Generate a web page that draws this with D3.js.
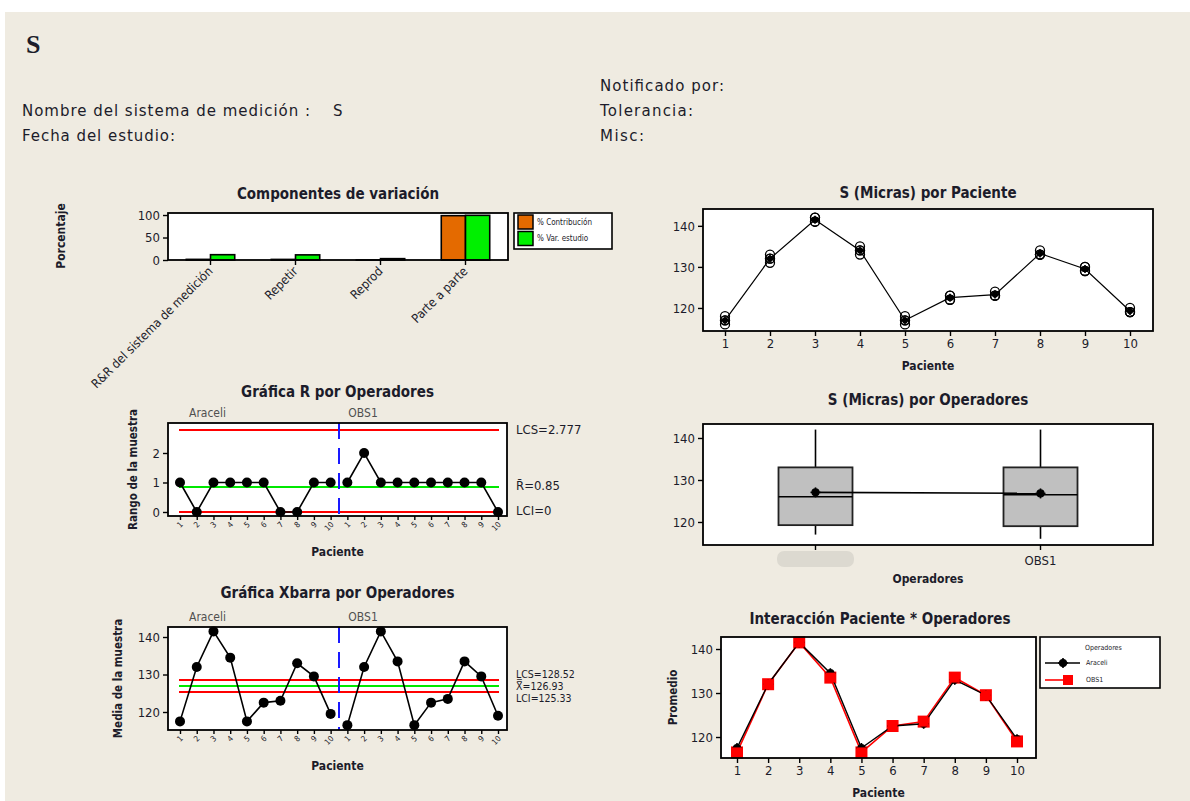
<!DOCTYPE html>
<html><head><meta charset="utf-8">
<script src="https://cdn.jsdelivr.net/npm/d3@7"></script>
<style>
body{margin:0;background:#fff;}
svg text{font-family:"DejaVu Sans Condensed","DejaVu Sans",sans-serif;fill:#1c1c2a;}
</style></head><body>
<svg id="c" width="1190" height="801"></svg>
<script>
// ---------------- data ----------------
const componentes = ["R&R del sistema de medición", "Repetir", "Reprod", "Parte a parte"];
const pctContribucion = [1.4, 1.3, 0.1, 98.6];
const pctVarEstudio = [11.8, 11.4, 3.0, 99.3];
const pacientes = ["1","2","3","4","5","6","7","8","9","10"];
const operadores = ["Araceli", "OBS1"];
const rangoAraceli = [1,0,1,1,1,1,0,0,1,1];
const rangoOBS1 = [1,2,1,1,1,1,1,1,1,0];
const mediaAraceli = [117.5,132,141.5,134.5,117.5,122.5,123,133,129.5,119.5];
const mediaOBS1 = [116.5,132,141.5,133.5,116.5,122.5,123.5,133.5,129.5,119];
const limitesR = {LCS: 2.777, media: 0.85, LCI: 0};
const limitesX = {LCS: 128.52, media: 126.93, LCI: 125.33};
const medAraceli1 = [117,132,141,134,117,122,123,133,129,119];
const medAraceli2 = [118,132,142,135,118,123,123,133,130,120];
const medOBS1_1 = [116,131,141,133,116,122,123,133,129,119];
const medOBS1_2 = [117,133,142,134,117,123,124,134,130,119];
const mediaPaciente = [117,132,141.5,134,117,122.5,123.25,133.25,129.5,119.25];
const boxMin = [117, 116];
const boxQ1 = [119.25, 119];
const boxMediana = [126, 126.5];
const boxQ3 = [133, 133];
const boxMax = [142, 142];
const boxMedia = [127.05, 126.8];

// ---------------- helpers ----------------
const svg = d3.select("#c");
svg.append("rect").attr("x",5).attr("y",12).attr("width",1185).attr("height",789).attr("fill","#efebe1");

function txt(x,y,s,opt={}){
  const t = svg.append("text").attr("x",x).attr("y",y).text(s)
    .attr("font-size",opt.size||12)
    .attr("font-weight",opt.bold?"bold":"normal")
    .attr("text-anchor",opt.anchor||"start");
  if(opt.rot!==undefined) t.attr("transform",`rotate(${opt.rot},${x},${y})`);
  if(opt.fill) t.style("fill",opt.fill);
  if(opt.family) t.style("font-family",opt.family);
  if(opt.mid) t.attr("dominant-baseline","middle");
  return t;
}
function panel(x0,y0,x1,y1){
  svg.append("rect").attr("x",x0).attr("y",y0).attr("width",x1-x0).attr("height",y1-y0).attr("fill","#fff");
  return svg.append("g");
}
function border(x0,y0,x1,y1){
  svg.append("rect").attr("x",x0).attr("y",y0).attr("width",x1-x0).attr("height",y1-y0)
    .attr("fill","none").attr("stroke","#000").attr("stroke-width",1.8);
}
function styleAxis(sel,size){
  sel.select(".domain").remove();
  sel.selectAll(".tick line").attr("stroke","#000").attr("stroke-width",1.4);
  sel.selectAll(".tick text").attr("font-size",size||12);
}
function crossCircle(g,x,y,r,color){
  g.append("circle").attr("cx",x).attr("cy",y).attr("r",r).attr("fill",color).attr("stroke",color).attr("stroke-width",1.2);
  g.append("line").attr("x1",x-r-1.5).attr("x2",x+r+1.5).attr("y1",y).attr("y2",y).attr("stroke",color).attr("stroke-width",1.6);
  g.append("line").attr("x1",x).attr("x2",x).attr("y1",y-r-1.5).attr("y2",y+r+1.5).attr("stroke",color).attr("stroke-width",1.6);
}

// ---------------- header ----------------
const hdr = "'DejaVu Sans',sans-serif";
txt(26,53,"S",{size:26,bold:true,family:"'Liberation Serif',serif"});
txt(22,116,"Nombre del sistema de medición :",{size:15,family:hdr}).attr("textLength",288);
txt(333,116,"S",{size:15,family:hdr});
txt(22,141,"Fecha del estudio:",{size:15,family:hdr}).attr("textLength",153);
txt(600,91,"Notificado por:",{size:15,family:hdr}).attr("textLength",124);
txt(600,116,"Tolerancia:",{size:15,family:hdr}).attr("textLength",93);
txt(600,141,"Misc:",{size:15,family:hdr}).attr("textLength",44);

// ---------------- Componentes de variación ----------------
{
  const X0=168,X1=508,Y0=213,Y1=260;
  const g = panel(X0,Y0,X1,Y1);
  const x = d3.scaleBand().domain(componentes).range([X0,X1]).paddingInner(0.43).paddingOuter(0.215);
  const sub = d3.scaleBand().domain(["c","v"]).range([0,x.bandwidth()]);
  const y = d3.scaleLinear().domain([0,104.5]).range([Y1,Y0]);
  const series = [{k:"c",vals:pctContribucion,color:"#e46a00"},{k:"v",vals:pctVarEstudio,color:"#00f000"}];
  series.forEach(s=>{
    g.selectAll(null).data(componentes).enter().append("rect")
      .attr("x",d=>x(d)+sub(s.k)).attr("width",sub.bandwidth())
      .attr("y",(d,i)=>y(s.vals[i])).attr("height",(d,i)=>Y1-y(s.vals[i]))
      .attr("fill",s.color).attr("stroke","#000").attr("stroke-width",1.6);
  });
  border(X0,Y0,X1,Y1);
  const ay = svg.append("g").attr("transform",`translate(${X0},0)`).call(d3.axisLeft(y).tickValues([0,50,100]).tickSize(5));
  styleAxis(ay,13);
  const ax = svg.append("g").attr("transform",`translate(0,${Y1})`).call(d3.axisBottom(x).tickSize(5));
  styleAxis(ax);
  ax.selectAll(".tick text").attr("x",0).attr("y",0).attr("dy",null).attr("text-anchor","end")
    .attr("transform","translate(3,12) rotate(-45)").attr("font-size",12.5);
  txt((X0+X1)/2,199,"Componentes de variación",{size:15,bold:true,anchor:"middle"});
  txt(65,236,"Porcentaje",{size:12,bold:true,anchor:"middle",rot:-90});
  // legend
  svg.append("rect").attr("x",514).attr("y",213).attr("width",98).attr("height",36).attr("fill","#fff").attr("stroke","#000").attr("stroke-width",1.6);
  const legItems = [{t:"% Contribución",c:"#e46a00"},{t:"% Var. estudio",c:"#00f000"}];
  legItems.forEach((d,i)=>{
    svg.append("rect").attr("x",518).attr("y",215+i*16.5).attr("width",15).attr("height",14).attr("fill",d.c).attr("stroke","#000").attr("stroke-width",1.5);
    txt(537,222+i*16.5,d.t,{size:8,mid:true});
  });
}

// ---------------- control chart helper ----------------
function controlChart(cfg){
  const {X0,X1,Y0,Y1,ydom,yticks,a,b,lim,title,titleY,ylab,ylabX,labs} = cfg;
  const g = panel(X0,Y0,X1,Y1);
  const all = a.concat(b);
  const x = d3.scalePoint().domain(d3.range(all.length)).range([X0+12,X1-9]);
  const y = d3.scaleLinear().domain(ydom).range([Y1,Y0]);
  [[lim.LCS,"#ff0000"],[lim.media,"#00e800"],[lim.LCI,"#ff0000"]].forEach(([v,c])=>{
    g.append("line").attr("x1",x(0)-1).attr("x2",x(all.length-1)+1).attr("y1",y(v)).attr("y2",y(v))
      .attr("stroke",c).attr("stroke-width",2);
  });
  const xm = (x(a.length-1)+x(a.length))/2;
  g.append("line").attr("x1",xm).attr("x2",xm).attr("y1",Y0).attr("y2",Y1).attr("stroke","#1a1aff").attr("stroke-width",2).attr("stroke-dasharray","16,9");
  const line = d3.line().x(d=>x(d.i)).y(d=>y(d.v));
  [a,b].forEach((arr,k)=>{
    const pts = arr.map((v,j)=>({i:j+k*a.length,v}));
    g.append("path").attr("d",line(pts)).attr("fill","none").attr("stroke","#000").attr("stroke-width",1.6);
    g.selectAll(null).data(pts).enter().append("circle").attr("cx",d=>x(d.i)).attr("cy",d=>y(d.v)).attr("r",5).attr("fill","#000");
  });
  border(X0,Y0,X1,Y1);
  const ay = svg.append("g").attr("transform",`translate(${X0},0)`).call(d3.axisLeft(y).tickValues(yticks).tickFormat(d3.format("d")).tickSize(5));
  styleAxis(ay,13);
  const ax = svg.append("g").attr("transform",`translate(0,${Y1})`).call(d3.axisBottom(x).tickSize(4).tickFormat(i=>pacientes[i%pacientes.length]));
  styleAxis(ax);
  ax.selectAll(".tick text").attr("x",0).attr("y",0).attr("dy",null).attr("text-anchor","end")
    .attr("transform","translate(3,9) rotate(-45)").attr("font-size",8);
  txt(x(0)+9,Y0-6,operadores[0],{size:12,fill:"#505050"});
  txt(x(a.length)+1,Y0-6,operadores[1],{size:12,fill:"#505050"});
  txt((X0+X1)/2,titleY,title,{size:15,bold:true,anchor:"middle"});
  txt((X0+X1)/2,Y1+40,"Paciente",{size:12,bold:true,anchor:"middle"});
  txt(ylabX,(Y0+Y1)/2,ylab,{size:11.5,bold:true,anchor:"middle",rot:-90});
  labs.forEach(l=>{ txt(X1+9,y(l.v)+(l.dy||0),l.t,{size:l.size||13,mid:true}); });
}

controlChart({X0:168,X1:507,Y0:423,Y1:516,ydom:[-0.136,3.017],yticks:[0,1,2],a:rangoAraceli,b:rangoOBS1,
  lim:limitesR,title:"Gráfica R por Operadores",titleY:397,ylab:"Rango de la muestra",ylabX:137,
  labs:[{v:limitesR.LCS,t:"LCS=2.777"},{v:limitesR.media,t:"R\u0304=0.85"},{v:limitesR.LCI,t:"LCI=0"}]});

controlChart({X0:168,X1:507,Y0:627,Y1:730,ydom:[115.2,142.67],yticks:[120,130,140],a:mediaAraceli,b:mediaOBS1,
  lim:limitesX,title:"Gráfica Xbarra por Operadores",titleY:598,ylab:"Media de la muestra",ylabX:122,
  labs:[{v:limitesX.LCS,t:"LCS=128.52",dy:-5,size:10.5},{v:limitesX.media,t:"X\u033F=126.93",dy:0.5,size:10.5},{v:limitesX.LCI,t:"LCI=125.33",dy:6.5,size:10.5}]});

// ---------------- S (Micras) por Paciente ----------------
{
  const X0=703,X1=1153,Y0=209,Y1=331;
  const g = panel(X0,Y0,X1,Y1);
  const x = d3.scalePoint().domain(pacientes).range([725,1130]);
  const y = d3.scaleLinear().domain([114.39,144.1]).range([Y1,Y0]);
  [medAraceli1,medAraceli2,medOBS1_1,medOBS1_2].forEach(arr=>{
    g.selectAll(null).data(arr).enter().append("circle").attr("cx",(d,i)=>x(pacientes[i])).attr("cy",d=>y(d))
      .attr("r",4.5).attr("fill","none").attr("stroke","#000").attr("stroke-width",1.3);
  });
  g.append("path").attr("d",d3.line().x((d,i)=>x(pacientes[i])).y(d=>y(d))(mediaPaciente)).attr("fill","none").attr("stroke","#000").attr("stroke-width",1.2);
  mediaPaciente.forEach((v,i)=>crossCircle(g,x(pacientes[i]),y(v),2.5,"#000"));
  border(X0,Y0,X1,Y1);
  const ay = svg.append("g").attr("transform",`translate(${X0},0)`).call(d3.axisLeft(y).tickValues([120,130,140]).tickSize(5));
  styleAxis(ay,13);
  const ax = svg.append("g").attr("transform",`translate(0,${Y1})`).call(d3.axisBottom(x).tickSize(5));
  styleAxis(ax,13);
  txt((X0+X1)/2,198,"S (Micras) por Paciente",{size:15,bold:true,anchor:"middle"});
  txt((X0+X1)/2,370,"Paciente",{size:12,bold:true,anchor:"middle"});
}

// ---------------- S (Micras) por Operadores ----------------
{
  const X0=703,X1=1153,Y0=424,Y1=545;
  const g = panel(X0,Y0,X1,Y1);
  const x = d3.scaleBand().domain(operadores).range([X0,X1]);
  const y = d3.scaleLinear().domain([114.52,143.33]).range([Y1,Y0]);
  const bw = 74;
  operadores.forEach((o,i)=>{
    const cx = x(o)+x.bandwidth()/2;
    g.append("line").attr("x1",cx).attr("x2",cx).attr("y1",y(boxMax[i])).attr("y2",y(boxQ3[i])).attr("stroke","#000").attr("stroke-width",1.6);
    g.append("line").attr("x1",cx).attr("x2",cx).attr("y1",y(boxQ1[i])).attr("y2",y(boxMin[i])).attr("stroke","#000").attr("stroke-width",1.6);
    g.append("rect").attr("x",cx-bw/2).attr("width",bw).attr("y",y(boxQ3[i])).attr("height",y(boxQ1[i])-y(boxQ3[i]))
      .attr("fill","#c0c0c0").attr("stroke","#222").attr("stroke-width",1.8);
    g.append("line").attr("x1",cx-bw/2).attr("x2",cx+bw/2).attr("y1",y(boxMediana[i])).attr("y2",y(boxMediana[i])).attr("stroke","#000").attr("stroke-width",1.6);
  });
  const cxs = operadores.map(o=>x(o)+x.bandwidth()/2);
  g.append("line").attr("x1",cxs[0]).attr("x2",cxs[1]).attr("y1",y(boxMedia[0])).attr("y2",y(boxMedia[1])).attr("stroke","#000").attr("stroke-width",1.6);
  boxMedia.forEach((v,i)=>crossCircle(g,cxs[i],y(v),3.5,"#000"));
  border(X0,Y0,X1,Y1);
  const ay = svg.append("g").attr("transform",`translate(${X0},0)`).call(d3.axisLeft(y).tickValues([120,130,140]).tickSize(5));
  styleAxis(ay,13);
  const ax = svg.append("g").attr("transform",`translate(0,${Y1})`).call(d3.axisBottom(x).tickSize(5));
  styleAxis(ax,13);
  ax.selectAll(".tick text").attr("dy","0.9em");
  svg.append("rect").attr("x",777).attr("y",551).attr("width",77).attr("height",16).attr("rx",7).attr("fill","#dcd9d0");
  txt((X0+X1)/2,405,"S (Micras) por Operadores",{size:15,bold:true,anchor:"middle"});
  txt((X0+X1)/2,583,"Operadores",{size:12,bold:true,anchor:"middle"});
}

// ---------------- Interacción ----------------
{
  const X0=721,X1=1036,Y0=637,Y1=758;
  const g = panel(X0,Y0,X1,Y1);
  const x = d3.scalePoint().domain(pacientes).range([737,1017]);
  const y = d3.scaleLinear().domain([115.23,142.73]).range([Y1,Y0]);
  const line = d3.line().x((d,i)=>x(pacientes[i])).y(d=>y(d));
  g.append("path").attr("d",line(mediaOBS1)).attr("fill","none").attr("stroke","#ff0000").attr("stroke-width",1.6);
  g.selectAll(null).data(mediaOBS1).enter().append("rect").attr("x",(d,i)=>x(pacientes[i])-6).attr("y",d=>y(d)-6)
    .attr("width",12).attr("height",12).attr("fill","#ff0000");
  g.append("path").attr("d",line(mediaAraceli)).attr("fill","none").attr("stroke","#000").attr("stroke-width",1.4);
  mediaAraceli.forEach((v,i)=>crossCircle(g,x(pacientes[i]),y(v),3.5,"#000"));
  g.selectAll(null).data(mediaOBS1).enter().append("rect").attr("x",(d,i)=>x(pacientes[i])-5).attr("y",d=>y(d)-5)
    .attr("width",10).attr("height",10).attr("fill","#ff0000");
  border(X0,Y0,X1,Y1);
  const ay = svg.append("g").attr("transform",`translate(${X0},0)`).call(d3.axisLeft(y).tickValues([120,130,140]).tickSize(5));
  styleAxis(ay,13);
  const ax = svg.append("g").attr("transform",`translate(0,${Y1})`).call(d3.axisBottom(x).tickSize(5));
  styleAxis(ax,13);
  txt(880,624,"Interacción Paciente * Operadores",{size:15,bold:true,anchor:"middle"});
  txt((X0+X1)/2,797,"Paciente",{size:12,bold:true,anchor:"middle"});
  txt(677,(Y0+Y1)/2,"Promedio",{size:11.5,bold:true,anchor:"middle",rot:-90});
  // legend
  svg.append("rect").attr("x",1040).attr("y",637).attr("width",120).attr("height",51).attr("fill","#fff").attr("stroke","#000").attr("stroke-width",1.6);
  txt(1085,648,"Operadores",{size:7,mid:true});
  svg.append("line").attr("x1",1045).attr("x2",1080).attr("y1",663).attr("y2",663).attr("stroke","#000").attr("stroke-width",1.6);
  crossCircle(svg,1063,663,3.5,"#000");
  txt(1086,663,operadores[0],{size:7,mid:true});
  svg.append("line").attr("x1",1045).attr("x2",1066).attr("y1",680).attr("y2",680).attr("stroke","#ff0000").attr("stroke-width",1.6);
  svg.append("rect").attr("x",1063).attr("y",675).attr("width",10).attr("height",10).attr("fill","#ff0000");
  txt(1086,680,operadores[1],{size:7,mid:true});
}
</script>
</body></html>
